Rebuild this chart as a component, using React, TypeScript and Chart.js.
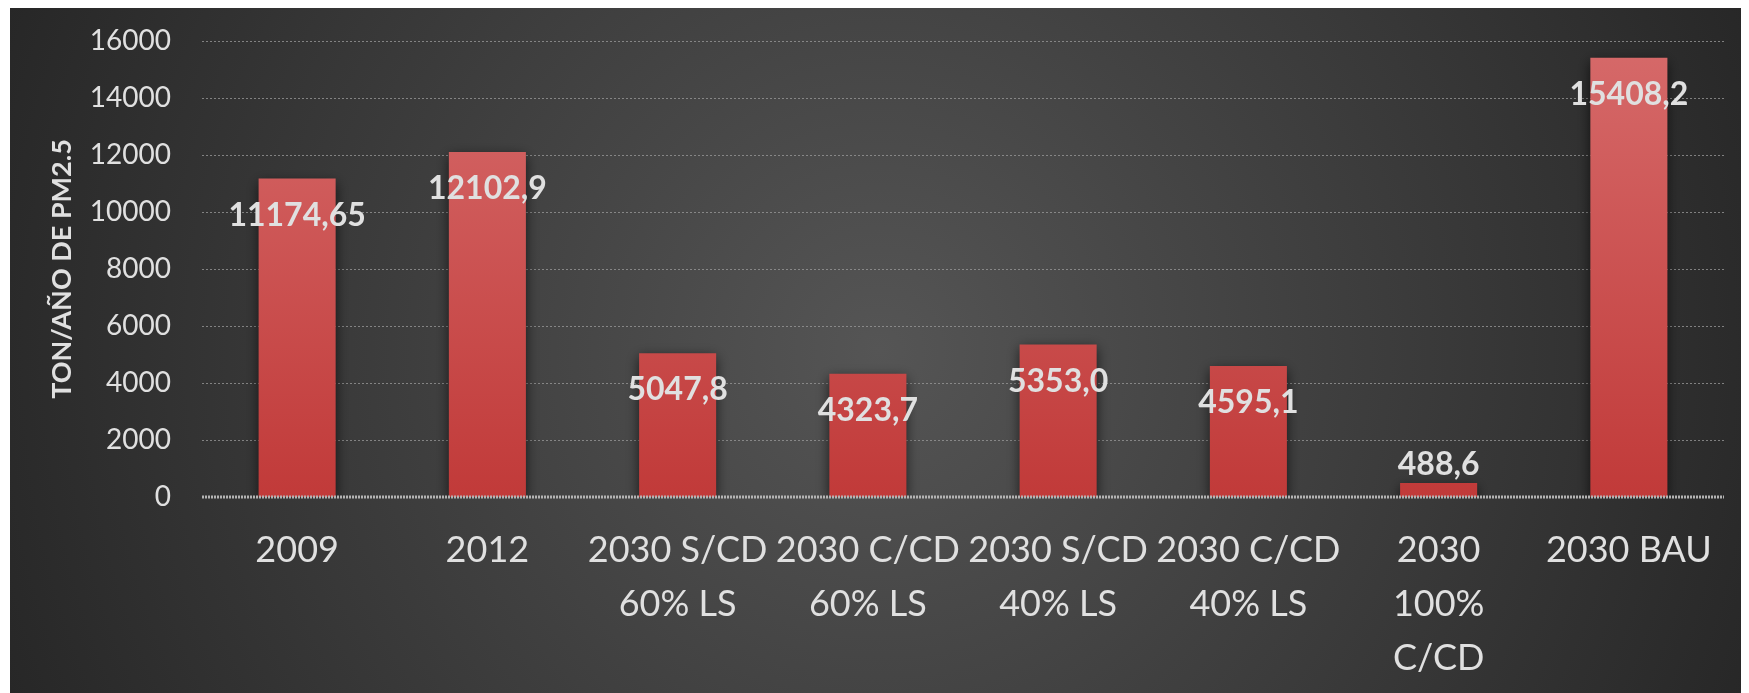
import React, { useEffect, useRef } from "react";
import { Chart, registerables } from "chart.js";

Chart.register(...registerables);

const categories: string[][] = [
  ["2009"],
  ["2012"],
  ["2030 S/CD", "60% LS"],
  ["2030 C/CD", "60% LS"],
  ["2030 S/CD", "40% LS"],
  ["2030 C/CD", "40% LS"],
  ["2030", "100%", "C/CD"],
  ["2030 BAU"],
];
const values: number[] = [11174.65, 12102.9, 5047.8, 4323.7, 5353.0, 4595.1, 488.6, 15408.2];
const valueText: string[] = ["11174,65", "12102,9", "5047,8", "4323,7", "5353,0", "4595,1", "488,6", "15408,2"];
const yTitle = "TON/AÑO DE PM2.5";
const yMin = 0;
const yMax = 16000;
const yStep = 2000;

const FONT = "Lato, 'Open Sans', sans-serif";

const bgPlugin = {
  id: "bg",
  beforeDraw(chart: any) {
    const { ctx, width, height } = chart;
    ctx.save();
    const g = ctx.createRadialGradient(width * 0.5, height * 0.5, 0, width * 0.5, height * 0.5, width * 0.55);
    g.addColorStop(0, "#555555");
    g.addColorStop(1, "#262626");
    ctx.fillStyle = g;
    ctx.fillRect(0, 0, width, height);
    ctx.restore();
  },
};

const shadowPlugin = {
  id: "barShadow",
  beforeDatasetsDraw(chart: any) {
    const ctx = chart.ctx;
    ctx.save();
    ctx.shadowColor = "rgba(0,0,0,0.65)";
    ctx.shadowBlur = 12;
    ctx.shadowOffsetX = 0;
    ctx.shadowOffsetY = 4;
  },
  afterDatasetsDraw(chart: any) {
    const ctx = chart.ctx;
    ctx.restore();
    const y = chart.scales.y.getPixelForValue(0);
    const { left, right } = chart.chartArea;
    ctx.save();
    ctx.strokeStyle = "#b4b4b4";
    ctx.lineWidth = 3;
    ctx.setLineDash([2, 1]);
    ctx.beginPath();
    ctx.moveTo(left, y);
    ctx.lineTo(right, y);
    ctx.stroke();
    ctx.restore();
    const meta = chart.getDatasetMeta(0);
    ctx.save();
    ctx.font = `bold 32px ${FONT}`;
    ctx.fillStyle = "#e0e0e0";
    ctx.textAlign = "center";
    ctx.textBaseline = "middle";
    meta.data.forEach((bar: any, i: number) => {
      const h = bar.base - bar.y;
      const ty = h > 60 ? bar.y + 37 : bar.y - 18;
      ctx.fillText(valueText[i], bar.x, ty);
    });
    ctx.restore();
  },
};

export default function App() {
  const ref = useRef<HTMLCanvasElement>(null);
  useEffect(() => {
    if (!ref.current) return;
    const chart = new Chart(ref.current, {
      type: "bar",
      data: {
        labels: categories,
        datasets: [
          {
            data: values,
            backgroundColor: (c: any) => {
              const ca = c.chart.chartArea;
              if (!ca) return "#c94444";
              const g = c.chart.ctx.createLinearGradient(0, ca.top, 0, ca.bottom);
              g.addColorStop(0, "#d66a6a");
              g.addColorStop(1, "#c13a39");
              return g;
            },
            borderWidth: 0,
            barPercentage: 0.81,
            categoryPercentage: 0.5,
          },
        ],
      },
      options: {
        responsive: false,
        animation: false,
        layout: { padding: { left: 0, right: 25, top: 33, bottom: 0 } },
        plugins: { legend: { display: false }, tooltip: { enabled: false } },
        scales: {
          x: {
            afterFit(scale: any) {
              scale.height = 196;
            },
            grid: { display: false, drawTicks: false },
            border: { display: false },
            ticks: {
              color: "#e0e0e0",
              font: { family: FONT, size: 36, lineHeight: 1.49 },
              padding: 27,
              maxRotation: 0,
              autoSkip: false,
            },
          },
          y: {
            min: yMin,
            max: yMax,
            afterFit(scale: any) {
              scale.width = 192;
              scale.paddingTop = 0;
              scale.paddingBottom = 0;
            },
            grid: {
              drawTicks: false,
              color: "rgba(150,150,150,0.8)",
              lineWidth: (c: any) => (c.tick && c.tick.value === 0 ? 0 : 1),
            },
            border: { display: false, dash: [2, 2] },
            ticks: {
              stepSize: yStep,
              color: "#e0e0e0",
              font: { family: FONT, size: 28 },
              padding: 31,
              callback: (v: any) => String(v),
            },
            title: {
              display: true,
              text: yTitle,
              color: "#e0e0e0",
              font: { family: FONT, size: 27, weight: "bold" },
              padding: { top: 36, bottom: 0 },
            },
          },
        },
      },
      plugins: [bgPlugin, shadowPlugin],
    });
    return () => chart.destroy();
  }, []);
  return (
    <div style={{ marginLeft: 2 }}>
      <canvas ref={ref} width={1739} height={685} style={{ display: "block", width: 1739, height: 685 }} />
    </div>
  );
}
